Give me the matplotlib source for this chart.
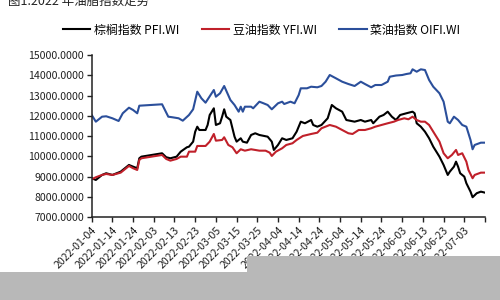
import matplotlib
matplotlib.use("Agg")
import matplotlib.pyplot as plt
import matplotlib.dates as mdates
from matplotlib.patches import Rectangle
import pandas as pd

plt.rcParams['font.family'] = ['Noto Sans CJK SC', 'DejaVu Sans']

title = "图1:2022 年油脂指数走势"
names = ["棕榈指数 PFI.WI", "豆油指数 YFI.WI", "菜油指数 OIFI.WI"]

pfi_dates = ["2022-01-04","2022-01-06","2022-01-09","2022-01-11","2022-01-14","2022-01-18","2022-01-22",
    "2022-01-24","2022-01-26","2022-01-27","2022-01-28","2022-02-07","2022-02-09","2022-02-11","2022-02-14",
    "2022-02-16","2022-02-19","2022-02-20","2022-02-22","2022-02-23","2022-02-24","2022-02-25","2022-02-28",
    "2022-03-01","2022-03-02","2022-03-04","2022-03-05","2022-03-07","2022-03-08","2022-03-09","2022-03-10",
    "2022-03-12","2022-03-14","2022-03-15","2022-03-17","2022-03-18","2022-03-20","2022-03-22","2022-03-24",
    "2022-03-26","2022-03-30","2022-04-01","2022-04-02","2022-04-04","2022-04-06","2022-04-08","2022-04-11",
    "2022-04-13","2022-04-15","2022-04-17","2022-04-20","2022-04-21","2022-04-23","2022-04-25","2022-04-28",
    "2022-04-30","2022-05-02","2022-05-05","2022-05-07","2022-05-11","2022-05-14","2022-05-16","2022-05-19",
    "2022-05-20","2022-05-23","2022-05-25","2022-05-27","2022-05-29","2022-05-31","2022-06-02","2022-06-05",
    "2022-06-08","2022-06-09","2022-06-10","2022-06-12","2022-06-14","2022-06-16","2022-06-18","2022-06-21",
    "2022-06-23","2022-06-25","2022-06-26","2022-06-28","2022-06-29","2022-06-30","2022-07-01","2022-07-03",
    "2022-07-04","2022-07-06","2022-07-07","2022-07-09","2022-07-11","2022-07-13"]
pfi_values = [8921,8837,9084,9168,9084,9247,9577,9493,9414,9907,9986,10154,9957,9907,9986,
    10233,10450,10479,10726,11219,11465,11302,11302,11549,12042,12372,11549,11633,11958,12323,11958,
    11795,10972,10726,10893,10726,10676,11056,11140,11056,10972,10726,10316,10563,10893,10810,10893,
    11219,11712,11633,11795,11549,11465,11549,11879,12535,12372,12205,11795,11712,11795,11712,11795,
    11633,11958,12042,12205,11958,11795,12042,12126,12205,12126,11633,11465,11219,10893,10479,9986,
    9577,9084,9247,9493,9740,9493,9168,9000,8675,8261,7985,8182,8261,8211]

yfi_dates = ["2022-01-04","2022-01-06","2022-01-09","2022-01-11","2022-01-14","2022-01-18","2022-01-22",
    "2022-01-24","2022-01-26","2022-01-27","2022-01-28","2022-02-07","2022-02-09","2022-02-11","2022-02-14",
    "2022-02-16","2022-02-19","2022-02-20","2022-02-23","2022-02-24","2022-02-28","2022-03-02","2022-03-04",
    "2022-03-05","2022-03-08","2022-03-09","2022-03-11","2022-03-13","2022-03-15","2022-03-17","2022-03-19",
    "2022-03-22","2022-03-24","2022-03-26","2022-03-29","2022-03-31","2022-04-01","2022-04-03","2022-04-06",
    "2022-04-08","2022-04-11","2022-04-13","2022-04-16","2022-04-18","2022-04-20","2022-04-23","2022-04-25",
    "2022-04-29","2022-05-02","2022-05-05","2022-05-08","2022-05-10","2022-05-13","2022-05-16","2022-05-19",
    "2022-05-21","2022-05-24","2022-05-27","2022-05-30","2022-06-01","2022-06-04","2022-06-06","2022-06-08",
    "2022-06-10","2022-06-12","2022-06-14","2022-06-16","2022-06-18","2022-06-21","2022-06-23","2022-06-25",
    "2022-06-27","2022-06-29","2022-06-30","2022-07-02","2022-07-04","2022-07-05","2022-07-07","2022-07-08",
    "2022-07-11","2022-07-13"]
yfi_values = [8872,8970,9084,9133,9084,9198,9528,9414,9330,9824,9907,10070,9873,9789,9873,
    9986,9986,10233,10233,10514,10514,10726,11105,10775,10810,10943,10563,10450,10154,10351,10282,
    10351,10317,10282,10282,10183,10021,10233,10400,10563,10647,10810,11007,11056,11105,11169,11386,
    11549,11465,11302,11140,11105,11302,11302,11386,11465,11549,11633,11712,11795,11879,11830,11958,
    11795,11712,11712,11549,11219,10726,10154,9907,10070,10317,10070,10154,9740,9331,8921,9084,
    9198,9198]

oifi_dates = ["2022-01-04","2022-01-06","2022-01-09","2022-01-11","2022-01-14","2022-01-17","2022-01-19",
    "2022-01-22","2022-01-24","2022-01-26","2022-01-27","2022-02-07","2022-02-10","2022-02-12","2022-02-15",
    "2022-02-17","2022-02-20","2022-02-22","2022-02-24","2022-02-26","2022-02-28","2022-03-04","2022-03-05",
    "2022-03-07","2022-03-09","2022-03-12","2022-03-14","2022-03-16","2022-03-17","2022-03-18","2022-03-19",
    "2022-03-22","2022-03-23","2022-03-26","2022-03-28","2022-03-30","2022-04-01","2022-04-04","2022-04-06",
    "2022-04-07","2022-04-10","2022-04-12","2022-04-14","2022-04-15","2022-04-18","2022-04-20","2022-04-23",
    "2022-04-25","2022-04-27","2022-04-29","2022-05-02","2022-05-05","2022-05-08","2022-05-11","2022-05-14",
    "2022-05-16","2022-05-19","2022-05-21","2022-05-24","2022-05-27","2022-05-28","2022-05-31","2022-06-03",
    "2022-06-05","2022-06-07","2022-06-08","2022-06-10","2022-06-12","2022-06-14","2022-06-16","2022-06-18",
    "2022-06-21","2022-06-23","2022-06-25","2022-06-26","2022-06-28","2022-06-30","2022-07-02","2022-07-04",
    "2022-07-06","2022-07-07","2022-07-08","2022-07-11","2022-07-13"]
oifi_values = [12042,11712,11958,11978,11879,11746,12126,12402,12288,12126,12500,12570,11958,11929,11879,
    11761,12042,12323,13191,12865,12648,13275,12944,13112,13472,12782,12535,12205,12451,12205,12451,
    12451,12372,12698,12619,12535,12323,12619,12698,12584,12698,12619,13028,13358,13358,13437,13408,
    13472,13684,14014,13851,13684,13570,13472,13684,13570,13408,13521,13521,13684,13930,13989,14014,
    14063,14098,14295,14177,14295,14260,13767,13437,13112,12698,11712,11633,11958,11795,11549,11465,
    10810,10351,10563,10676,10676]

tick_start, tick_end, axis_end = "2022-01-04", "2022-07-03", "2022-07-13"
y_min, y_max, y_step = 7000, 15000, 1000

fig = plt.figure(figsize=(5, 3), dpi=100)
ax = fig.add_axes([0.1834, 0.276, 0.7866, 0.5406])

series = [(pfi_dates, pfi_values, '#000000'),
          (yfi_dates, yfi_values, '#c0202a'),
          (oifi_dates, oifi_values, '#2b4f9b')]
for (d, v, c), n in zip(series, names):
    ax.plot(pd.to_datetime(d), v, color=c, lw=1.5, label=n, solid_joinstyle='round')

ax.set_ylim(y_min, y_max)
ax.set_yticks(range(y_min, y_max + 1, y_step))
ax.set_yticklabels([f"{t:.4f}" for t in range(y_min, y_max + 1, y_step)])
xt = pd.date_range(tick_start, tick_end, freq='10D')
ax.set_xlim(pd.Timestamp(tick_start), pd.Timestamp(axis_end))
ax.set_xticks(xt)
ax.set_xticklabels([t.strftime('%Y-%m-%d') for t in xt], rotation=45, ha='right',
                   rotation_mode='anchor')
ax.set_xticks([pd.Timestamp(axis_end)], minor=True)
ax.tick_params(axis='both', which='both', direction='out', length=3.5, width=1.0,
               labelsize=7.6, colors='#222222', pad=2)
ax.tick_params(axis='x', which='minor', length=3.5)
for s in ['top', 'right']:
    ax.spines[s].set_visible(False)
for s in ['left', 'bottom']:
    ax.spines[s].set_linewidth(1.1)
    ax.spines[s].set_color('#222222')

fig.legend(loc='center', bbox_to_anchor=(0.523, 0.9), ncol=3, frameon=False,
           fontsize=8.6, handlelength=2.3, columnspacing=1.9, handletextpad=0.3)

fig.text(0.016, 0.997, title, fontsize=9, va='center', ha='left', color='#222222')

# grey overlay band at the bottom of the source image
fig.patches.append(Rectangle((0, 0), 1, 28 / 300, transform=fig.transFigure,
                             facecolor='#b8b8b8', edgecolor='none', zorder=10))
fig.patches.append(Rectangle((0.494, 0), 0.506, 44 / 300, transform=fig.transFigure,
                             facecolor='#b8b8b8', edgecolor='none', zorder=10))

fig.savefig("out.png", dpi=100)
